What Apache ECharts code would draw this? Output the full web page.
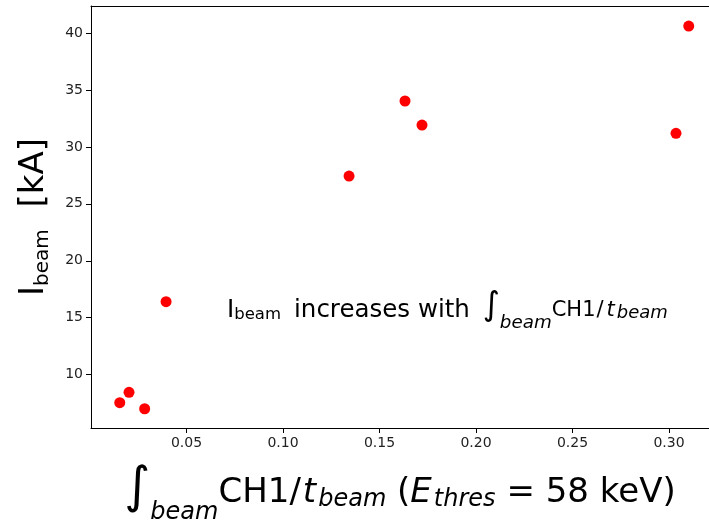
<!DOCTYPE html>
<html>
<head>
<meta charset="utf-8">
<script src="https://cdn.jsdelivr.net/npm/echarts@6/dist/echarts.min.js"></script>
<style>
  html, body { margin: 0; padding: 0; background: #fff; }
  #chart { width: 709px; height: 526px; }
</style>
</head>
<body>
<div id="chart"></div>
<script>
// Beam current against integrated CH1 signal per beam time
const chargeRate = [0.0154, 0.0202, 0.0283, 0.0394, 0.1342, 0.1632, 0.1720, 0.3036, 0.3102];
const beamCurrent = [7.54, 8.45, 7.01, 16.41, 27.44, 34.03, 31.92, 31.19, 40.61];
const xTicks = [0.05, 0.10, 0.15, 0.20, 0.25, 0.30];
const yTicks = [10, 15, 20, 25, 30, 35, 40];

const FONT = 'DejaVu Sans';
const points = chargeRate.map((x, i) => [x, beamCurrent[i]]);

const chart = echarts.init(document.getElementById('chart'), null, { renderer: 'canvas' });

const axisCommon = {
  axisLine: { show: true, onZero: false, lineStyle: { color: '#000', width: 1 } },
  axisTick: { show: true, inside: false, length: 5, lineStyle: { color: '#000', width: 1 } },
  splitLine: { show: false },
  axisLabel: { color: '#222', fontSize: 14, fontFamily: FONT, margin: 8 }
};

// Rich-text token: every token is top-aligned in its own box of height h,
// so its glyphs are centred h/2 below the top of the line. Different h
// values lift or drop tokens to build sub- and superscripts.
function tok(size, h, italic, pad) {
  const t = {
    fontSize: size, fontFamily: FONT, height: h, lineHeight: h, verticalAlign: 'top',
    fontStyle: italic ? 'italic' : 'normal', color: '#000'
  };
  if (pad) t.padding = [0, pad[1], 0, pad[0]];
  return t;
}

chart.setOption({
  backgroundColor: '#fff',
  animation: false,
  grid: { left: 91, top: 6, right: 0, bottom: 98, containLabel: false, outerBoundsMode: 'none' },
  xAxis: [
    Object.assign({}, axisCommon, {
      type: 'value',
      min: 0.0005,
      max: 0.3207,
      axisTick: Object.assign({}, axisCommon.axisTick, { customValues: xTicks }),
      axisLabel: Object.assign({}, axisCommon.axisLabel, {
        customValues: xTicks,
        formatter: v => v.toFixed(2)
      }),
      name: '{int|∫}{isub|beam}{n|CH1/}{t|t}{sub|beam}{n| (}{e|E}{sub|thres}{n| = 58 keV)}',
      nameLocation: 'middle',
      nameGap: 36,
      nameMoveOverlap: false,
      nameTextStyle: {
        color: '#000',
        fontFamily: FONT,
        rich: {
          int: tok(50, 51, false),
          n: tok(34, 57.8, false),
          t: tok(34, 57.8, true, [2, 2]),
          e: tok(34, 57.8, true, [0, 2]),
          isub: tok(24, 97.8, true),
          sub: tok(24, 71.8, true)
        }
      }
    }),
    {
      type: 'value',
      position: 'top',
      min: 0.0005,
      max: 0.3207,
      axisLine: { show: true, onZero: false, lineStyle: { color: '#000', width: 1 } },
      axisTick: { show: false },
      axisLabel: { show: false },
      splitLine: { show: false }
    }
  ],
  yAxis: Object.assign({}, axisCommon, {
    type: 'value',
    min: 5.32,
    max: 42.37,
    axisTick: Object.assign({}, axisCommon.axisTick, { customValues: yTicks }),
    axisLabel: Object.assign({}, axisCommon.axisLabel, { customValues: yTicks }),
    name: '{n|I}{sub|beam}{n|  [kA]}',
    nameLocation: 'middle',
    nameGap: 13.7,
    nameRotate: 90,
    nameMoveOverlap: false,
    nameTextStyle: {
      color: '#000',
      fontFamily: FONT,
      rich: {
        n: tok(34, 50, false),
        sub: tok(20, 68.4, false)
      }
    }
  }),
  series: [{
    type: 'scatter',
    xAxisIndex: 0,
    data: points,
    symbol: 'circle',
    symbolSize: 11,
    itemStyle: { color: '#ff0000', opacity: 1 },
    emphasis: { disabled: true }
  }],
  graphic: [{
    type: 'text',
    left: 227,
    top: 290,
    style: {
      text: '{n|I}{sub|beam }{n| increases with }{int|∫}{isub|beam}{m|CH1}{sl|/}{t|t}{tsub|beam}',
      fill: '#000',
      rich: {
        n: tok(24.5, 41.4, false),
        sub: tok(16.5, 50.2, false),
        int: tok(33, 33, false, [5, 0]),
        isub: tok(18.3, 65.6, true),
        m: tok(21, 41.4, false),
        sl: tok(21, 41.4, false, [1, 2]),
        t: tok(21, 41.4, true, [1, 2]),
        tsub: tok(18, 47.6, true)
      }
    }
  }]
});
</script>
</body>
</html>
